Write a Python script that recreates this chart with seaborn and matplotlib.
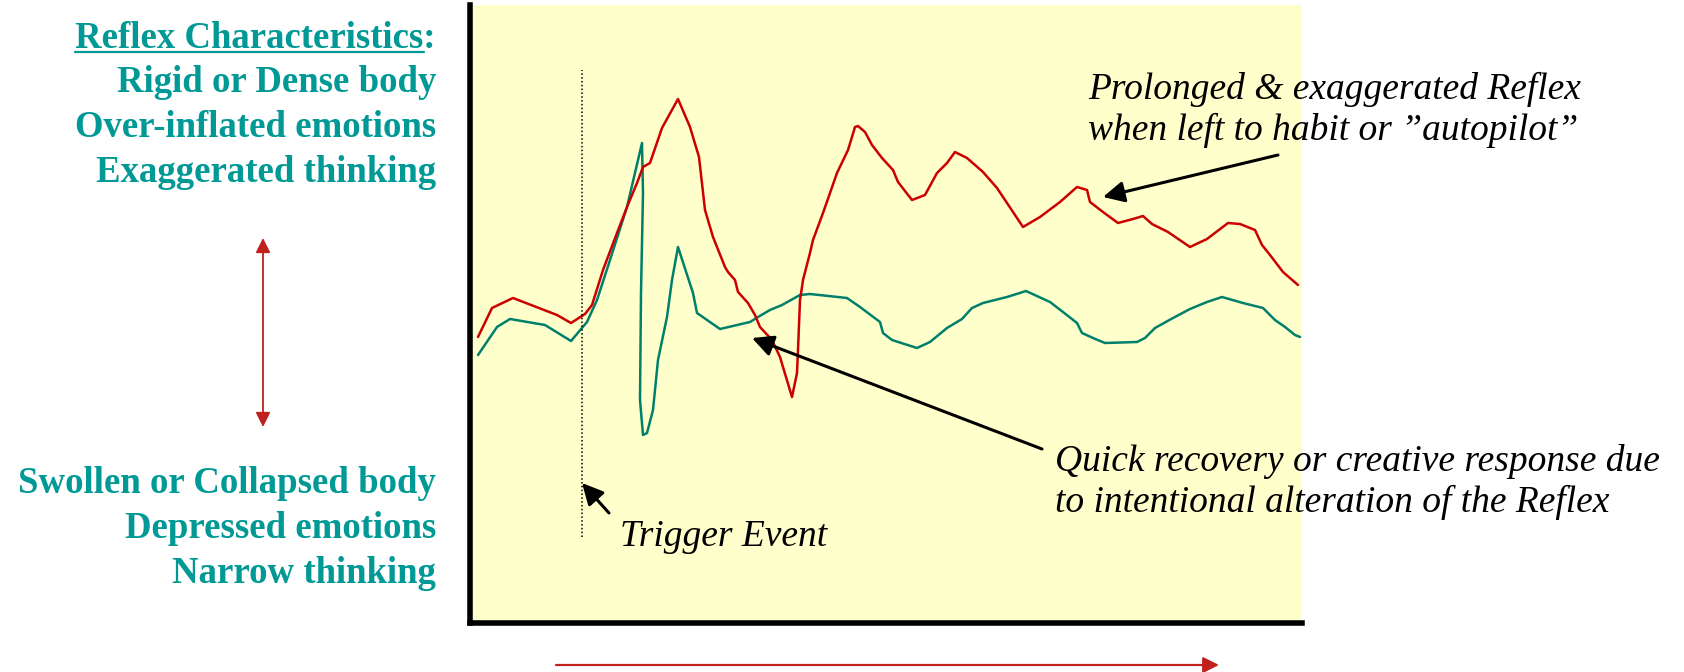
import matplotlib
matplotlib.use("Agg")
import matplotlib.pyplot as plt
from matplotlib.patches import FancyArrowPatch
from matplotlib.lines import Line2D
import pandas as pd
import seaborn as sns

# Reflex trace left to habit ("autopilot"): time vs. level (arbitrary units)
red_t = [8, 22, 43, 87, 101, 115, 122, 133, 147, 157, 167, 173, 180, 192, 208,
         220, 229, 235, 243, 255, 258, 265, 268, 278, 285, 290, 302, 310, 322,
         327, 328, 330, 332, 333, 340, 343, 353, 367, 378, 382, 385, 388, 395,
         402, 412, 423, 428, 442, 455, 467, 477, 485, 497, 513, 527, 553, 570,
         590, 607, 617, 620, 633, 648, 663, 673, 682, 698, 720, 737, 758, 770,
         785, 792, 800, 813, 828]
red_level = [286, 315, 325, 308, 300, 309, 318, 353, 390, 416, 440, 456, 460, 495, 524,
             496, 466, 413, 386, 356, 351, 343, 331, 320, 308, 296, 283, 266, 226,
             250, 273, 323, 336, 343, 370, 383, 410, 450, 473, 486, 496, 497, 491,
             478, 465, 453, 441, 423, 428, 450, 460, 471, 465, 451, 435, 396, 406,
             421, 436, 433, 421, 411, 400, 404, 407, 399, 391, 376, 384, 400, 399,
             393, 378, 368, 351, 338]

# Reflex trace with intentional alteration (quick recovery)
green_t = [8, 27, 40, 75, 101, 117, 127, 140, 157, 172, 173, 171, 170, 173, 177,
           183, 188, 197, 202, 208, 223, 227, 250, 280, 288, 300, 312, 330, 340,
           377, 390, 410, 413, 422, 447, 460, 477, 492, 502, 513, 537, 556, 580,
           593, 607, 612, 623, 635, 667, 675, 685, 703, 720, 737, 752, 773, 793,
           805, 815, 825, 830]
green_level = [268, 296, 304, 298, 282, 301, 323, 363, 416, 480, 430, 330, 223, 188, 190,
               213, 263, 306, 343, 376, 330, 310, 294, 301, 306, 313, 318, 328, 329,
               325, 316, 301, 290, 283, 275, 281, 295, 304, 315, 320, 326, 332, 321,
               311, 300, 290, 285, 280, 281, 285, 295, 305, 314, 321, 326, 320, 315,
               303, 296, 288, 286]

trigger_t = 112
trigger_span = (86, 553)

top_labels = ["Rigid or Dense body", "Over-inflated emotions", "Exaggerated thinking"]
bottom_labels = ["Swollen or Collapsed body", "Depressed emotions", "Narrow thinking"]
heading = "Reflex Characteristics"

teal = "#009995"
red = "#CC0000"
green = "#00806B"
arrow_red = "#C0211D"

sns.set_style("white")
plt.rcParams["font.family"] = ["Liberation Serif", "DejaVu Serif"]

W, H = 1684, 672
fig = plt.figure(figsize=(W / 100, H / 100), dpi=100)
ax = fig.add_axes([470 / W, 49 / H, 832 / W, 618 / H])
ax.set_facecolor("#FFFFCC")

red_df = pd.DataFrame({"t": red_t, "level": red_level})
green_df = pd.DataFrame({"t": green_t, "level": green_level})
sns.lineplot(data=green_df, x="t", y="level", sort=False, estimator=None,
             color=green, lw=1.8, ax=ax)
sns.lineplot(data=red_df, x="t", y="level", sort=False, estimator=None,
             color=red, lw=1.8, ax=ax)

ax.vlines(trigger_t, *trigger_span, colors="black", linestyles=(0, (1, 1.5)), lw=1.1)

ax.set_xlim(0, 832)
ax.set_ylim(0, 618)
ax.set_xticks([])
ax.set_yticks([])
ax.set_xlabel("")
ax.set_ylabel("")
for side in ["top", "right"]:
    ax.spines[side].set_visible(False)
for side in ["left", "bottom"]:
    ax.spines[side].set_color("black")
    ax.spines[side].set_linewidth(4)

arrow_kw = dict(arrowstyle="-|>", color="black", lw=2.2, mutation_scale=32,
                shrinkA=0, shrinkB=0)
italic = dict(fontstyle="italic", fontsize=27, color="black", clip_on=False)

# annotations
ax.annotate("", xy=(112, 140), xytext=(139, 110), arrowprops=arrow_kw)
ax.text(150, 77, "Trigger Event", va="baseline", **italic)

ax.annotate("", xy=(282, 285), xytext=(572, 174), arrowprops=arrow_kw)
ax.text(585, 141, "Quick recovery or creative response due\nto intentional alteration of the Reflex",
        va="center", linespacing=1.25, **italic)

ax.annotate("", xy=(633, 426), xytext=(808, 468), arrowprops=arrow_kw)
ax.text(618, 513, "Prolonged & exaggerated Reflex\nwhen left to habit or \u201dautopilot\u201d",
        va="center", linespacing=1.2, **italic)

# left side labels
bold_size = 26.5
bold = dict(fontsize=bold_size, fontweight="bold", color=teal, ha="right", va="baseline")
right_x = 436 / W
head = fig.text(right_x, 1 - 48 / H, heading + ":", **bold)
for i, lab in enumerate(top_labels):
    fig.text(right_x, 1 - (92 + 45 * i) / H, lab, **bold)
for i, lab in enumerate(bottom_labels):
    fig.text(right_x, 1 - (493 + 45 * i) / H, lab, **bold)

# underline the heading (without the colon)
renderer = fig.canvas.get_renderer()
hb = head.get_window_extent(renderer)
colon = fig.text(0, 0, ":", fontsize=bold_size, fontweight="bold", alpha=0)
cw = colon.get_window_extent(renderer).width
uy = (H - 52) / H
fig.add_artist(Line2D([hb.x0 / W, (hb.x1 - cw) / W], [uy, uy], color=teal, lw=1.6))

# red axis arrows
fig.add_artist(FancyArrowPatch((263 / W, 1 - 238 / H), (263 / W, 1 - 427 / H),
                               transform=fig.transFigure, arrowstyle="<|-|>",
                               color=arrow_red, lw=1.3, mutation_scale=22,
                               shrinkA=0, shrinkB=0))
fig.add_artist(FancyArrowPatch((556 / W, 1 - 665 / H), (1219 / W, 1 - 665 / H),
                               transform=fig.transFigure, arrowstyle="-|>",
                               color=arrow_red, lw=1.6, mutation_scale=24,
                               shrinkA=0, shrinkB=0))

fig.savefig("out.png", dpi=100, facecolor="white")
